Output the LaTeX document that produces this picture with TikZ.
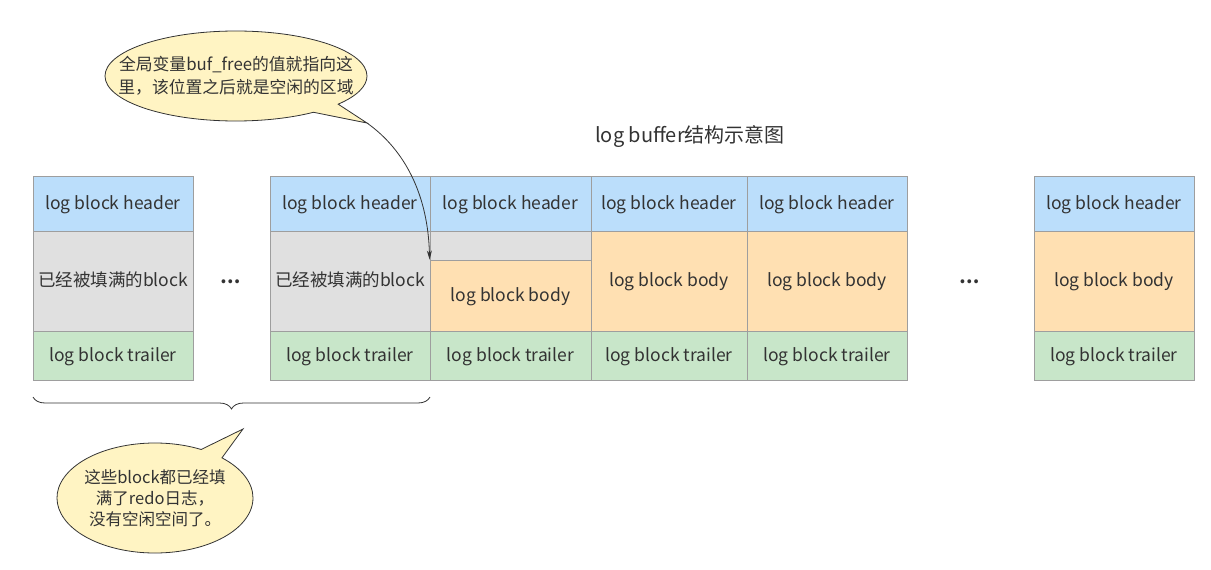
\documentclass[tikz,border=0pt]{standalone}
\usepackage{fontspec}
\setmainfont{Noto Sans CJK SC}
\usetikzlibrary{shapes.callouts,decorations.pathreplacing,arrows.meta}
\definecolor{hdrc}{HTML}{BBDEFB}
\definecolor{grayc}{HTML}{E0E0E0}
\definecolor{bodyc}{HTML}{FFE0B2}
\definecolor{trlc}{HTML}{C8E6C9}
\definecolor{edgec}{HTML}{9E9E9E}
\definecolor{txtc}{HTML}{333333}
\definecolor{notec}{HTML}{FFF4C3}
\begin{document}
\begin{tikzpicture}[x=1pt,y=-1pt,
  cell/.style={draw=edgec, line width=0.8pt, inner sep=0pt, text=txtc,
    font=\fontsize{17.5}{21}\selectfont, text height=1.2em, text depth=0.1em},
  hdr/.style={cell, fill=hdrc, minimum height=55pt},
  full/.style={cell, fill=grayc, minimum height=100pt},
  body/.style={cell, fill=bodyc, minimum height=100pt},
  trl/.style={cell, fill=trlc, minimum height=49pt},
  note/.style={ellipse callout, draw=txtc, line width=0.8pt, fill=notec, inner sep=0pt},
  notetext/.style={text=txtc, align=center, inner sep=0pt},
  plain/.style={text=txtc, inner sep=0pt},
  dots/.style={plain, font=\fontsize{18}{20}\bfseries}
]
\useasboundingbox (0,0) rectangle (1211,570);

% block 1
\node[hdr, minimum width=160pt] (h1) at (113,203.5) {log block header};
\node[full, minimum width=160pt] (m1) at (113,281) {已经被填满的block};
\node[trl, minimum width=160pt] (t1) at (113,355.5) {log block trailer};
\node[dots] (d1) at (231,282) {…};
% block 2
\node[hdr, minimum width=160pt] (h2) at (350,203.5) {log block header};
\node[full, minimum width=160pt] (m2) at (350,281) {已经被填满的block};
\node[trl, minimum width=160pt] (t2) at (350,355.5) {log block trailer};
% block 3
\node[hdr, minimum width=161pt] (h3) at (510.5,203.5) {log block header};
\node[cell, fill=grayc, minimum width=161pt, minimum height=29pt] (g3) at (510.5,245.5) {};
\node[cell, fill=bodyc, minimum width=161pt, minimum height=71pt] (b3) at (510.5,295.5) {log block body};
\node[trl, minimum width=161pt] (t3) at (510.5,355.5) {log block trailer};
% block 4
\node[hdr, minimum width=156pt] (h4) at (669,203.5) {log block header};
\node[body, minimum width=156pt] (b4) at (669,281) {log block body};
\node[trl, minimum width=156pt] (t4) at (669,355.5) {log block trailer};
% block 5
\node[hdr, minimum width=160pt] (h5) at (827,203.5) {log block header};
\node[body, minimum width=160pt] (b5) at (827,281) {log block body};
\node[trl, minimum width=160pt] (t5) at (827,355.5) {log block trailer};
\node[dots] (d2) at (970,282) {…};
% block 6
\node[hdr, minimum width=160pt] (h6) at (1114,203.5) {log block header};
\node[body, minimum width=160pt] (b6) at (1114,281) {log block body};
\node[trl, minimum width=160pt] (t6) at (1114,355.5) {log block trailer};

% title
\node[plain, font=\fontsize{20}{24}\selectfont] (title) at (690,137) {log buffer结构示意图};

% callout 1
\coordinate (p1) at (367,123);
\node[note, minimum width=262pt, minimum height=90pt, callout absolute pointer={(p1)}] (c1) at (236,76) {};
\node[notetext, font=\fontsize{16.8}{23}\selectfont] (c1t) at (c1.center)
  {全局变量buf\_free的值就指向这\\里，该位置之后就是空闲的区域};
\draw[txtc, line width=0.8pt, -{Stealth[length=9pt,width=5pt]}] (p1) .. controls (405,150) and (428,195) .. (b3.north west);

% brace
\coordinate (bl) at (33,397);
\coordinate (br) at (430,397);
\draw[txtc, line width=0.8pt, decorate, decoration={brace, mirror, amplitude=12pt}] (bl) -- (br);

% callout 2
\coordinate (p2) at (243,429);
\node[note, minimum width=196pt, minimum height=110pt, callout absolute pointer={(p2)}] (c2) at (155,498) {};
\node[notetext, font=\fontsize{16.5}{21}\selectfont] (c2t) at (c2.center)
  {这些block都已经填\\满了redo日志，\\没有空闲空间了。};
\end{tikzpicture}
\end{document}
